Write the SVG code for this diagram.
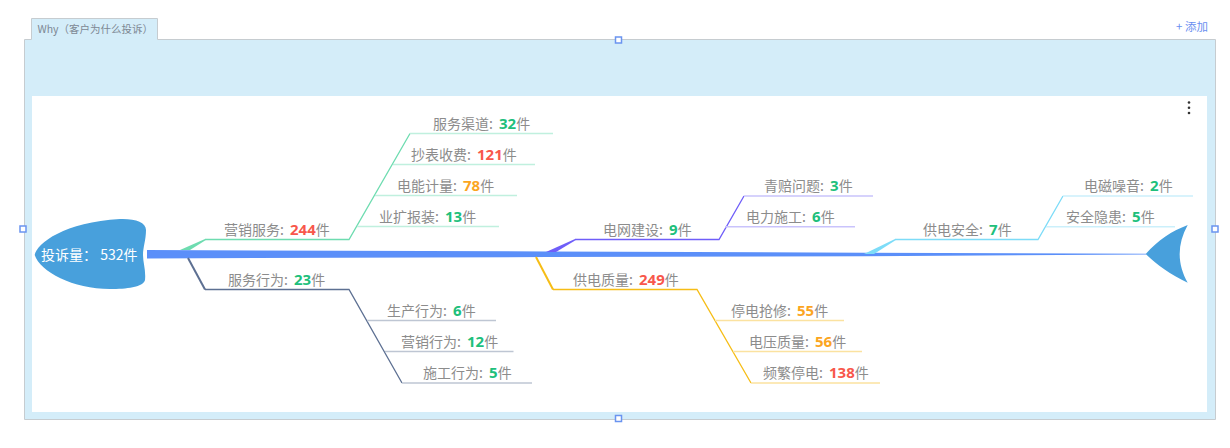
<svg xmlns="http://www.w3.org/2000/svg" width="1230" height="448" viewBox="0 0 1230 448">
<style>
text{font-family:"Noto Sans CJK SC","Liberation Sans",sans-serif;font-size:14px;fill:#8c8c8c}
.n{font-family:"Noto Sans","Noto Sans CJK SC",sans-serif;font-weight:700;font-size:15px}
.g{fill:#20bf7b}.r{fill:#f8574b}.o{fill:#fba51f}
.c{fill:none;stroke-width:1.3}
.k{stroke-width:1.6}
.h{fill:#fff;stroke:#6a94f0;stroke-width:1.500}
.grn{stroke:#6edcb0}.grnl{stroke:#c0f0de}
.sl{stroke:#5d7092}.sll{stroke:#bec6d3}
.pu{stroke:#6f5ef9}.pul{stroke:#c9c3fc}
.ye{stroke:#f6bd16}.yel{stroke:#fbe2a0}
.cy{stroke:#7ddcf8}.cyl{stroke:#cbf0fb}
</style>
<g id="panel">
<path d="M24.500 39.500H31.500V18.500H157.500V39.500H1215.500V419.500H24.500Z" fill="#d4edf9" stroke="#c6ccd0"/>
<rect x="32" y="96" width="1175" height="316" fill="#fff"/>
<text x="37.500" y="33" style="font-size:10.500px;fill:#7d8894">Why（客户为什么投诉）</text>
<text x="1176" y="30.500" style="font-size:11.500px;fill:#6a8ff0">+ 添加</text>
<rect class="h" x="615.500" y="37" width="6" height="6"/>
<rect class="h" x="615.500" y="415.500" width="6" height="6"/>
<rect class="h" x="20" y="226" width="6" height="6"/>
<rect class="h" x="1212" y="226" width="6" height="6"/>
<circle cx="1189" cy="102.500" r="1.300" fill="#333"/><circle cx="1189" cy="107.800" r="1.300" fill="#333"/><circle cx="1189" cy="113" r="1.300" fill="#333"/>
</g>
<g id="connectors">
<path d="M147 250L547 251.500L865 252.700L1146 253.700V254.600L865 256.200L547 257L147 258.500Z" fill="#5b8ff9"/>
<path d="M180 250L205 239L205.500 240.200L190 250Z" fill="#6edcb0"/>
<path d="M188 258L205 289.500" class="c sl" style="stroke-width:2"/>
<path d="M546 252L575 239L575.500 240.200L556 252Z" fill="#6f5ef9"/>
<path d="M536 257L553 289.500" class="c ye" style="stroke-width:2"/>
<path d="M864 254L895 239L895.500 240.200L874 254Z" fill="#7ddcf8"/>
<path class="c grn" d="M205 239.500H349L410 133.500"/>
<path class="c grnl" d="M410 133.500H553"/>
<path class="c k grnl" d="M393 164.500H535M375 195.500H517M357 226.500H499"/>
<path class="c sl" d="M205 289.500H349L402 383"/>
<path class="c k sll" d="M367 320.500H496M385 351.500H513.500M402 383H532"/>
<path class="c pu" d="M575 239.500H719L744 196"/>
<path class="c k pul" d="M744 196H873M725 226.700H855"/>
<path class="c ye" d="M553 289.500H697L751 383"/>
<path class="c k yel" d="M715 320.500H844M733 351.500H862M751 383H880"/>
<path class="c cy" d="M895 239.500H1038L1063 196"/>
<path class="c k cyl" d="M1063 196H1193M1046 226.700H1175"/>
</g>
<g id="head">
<path d="M34.700 255C37 243 65 222 120 219C135 218.500 146 222 146 230C146 240 143 247 143 255C143 263 146 270 145 280C144 286 130 289 113 289C75 290 40 272 34.700 255Z" fill="#48a0dc"/>
<text x="41" y="260" style="fill:#fff">投诉量： 532件</text>
</g>
<g id="tail"><path d="M1145.700 254C1158 240 1172 231 1187.700 225C1177 244 1177 264 1187.700 282.700C1170 274 1158 266 1145.700 254Z" fill="#48a0dc"/></g>
<g id="n1"><text x="224" y="235">营销服务: <tspan dx="3" class="n r">244</tspan>件</text></g>
<g id="n2"><text x="433" y="129">服务渠道: <tspan dx="3" class="n g">32</tspan>件</text></g>
<g id="n3"><text x="411" y="160">抄表收费: <tspan dx="3" class="n r">121</tspan>件</text></g>
<g id="n4"><text x="397" y="191">电能计量: <tspan dx="3" class="n o">78</tspan>件</text></g>
<g id="n5"><text x="379" y="222">业扩报装: <tspan dx="3" class="n g">13</tspan>件</text></g>
<g id="n6"><text x="228" y="285">服务行为: <tspan dx="3" class="n g">23</tspan>件</text></g>
<g id="n7"><text x="387" y="316">生产行为: <tspan dx="3" class="n g">6</tspan>件</text></g>
<g id="n8"><text x="401" y="347">营销行为: <tspan dx="3" class="n g">12</tspan>件</text></g>
<g id="n9"><text x="423" y="378">施工行为: <tspan dx="3" class="n g">5</tspan>件</text></g>
<g id="n10"><text x="603" y="235">电网建设: <tspan dx="3" class="n g">9</tspan>件</text></g>
<g id="n11"><text x="764" y="191">青赔问题: <tspan dx="3" class="n g">3</tspan>件</text></g>
<g id="n12"><text x="746" y="222">电力施工: <tspan dx="3" class="n g">6</tspan>件</text></g>
<g id="n13"><text x="573" y="285">供电质量: <tspan dx="3" class="n r">249</tspan>件</text></g>
<g id="n14"><text x="731" y="316">停电抢修: <tspan dx="3" class="n o">55</tspan>件</text></g>
<g id="n15"><text x="749" y="347">电压质量: <tspan dx="3" class="n o">56</tspan>件</text></g>
<g id="n16"><text x="763" y="378">频繁停电: <tspan dx="3" class="n r">138</tspan>件</text></g>
<g id="n17"><text x="923" y="235">供电安全: <tspan dx="3" class="n g">7</tspan>件</text></g>
<g id="n18"><text x="1084" y="191">电磁噪音: <tspan dx="3" class="n g">2</tspan>件</text></g>
<g id="n19"><text x="1066" y="222">安全隐患: <tspan dx="3" class="n g">5</tspan>件</text></g>
</svg>
